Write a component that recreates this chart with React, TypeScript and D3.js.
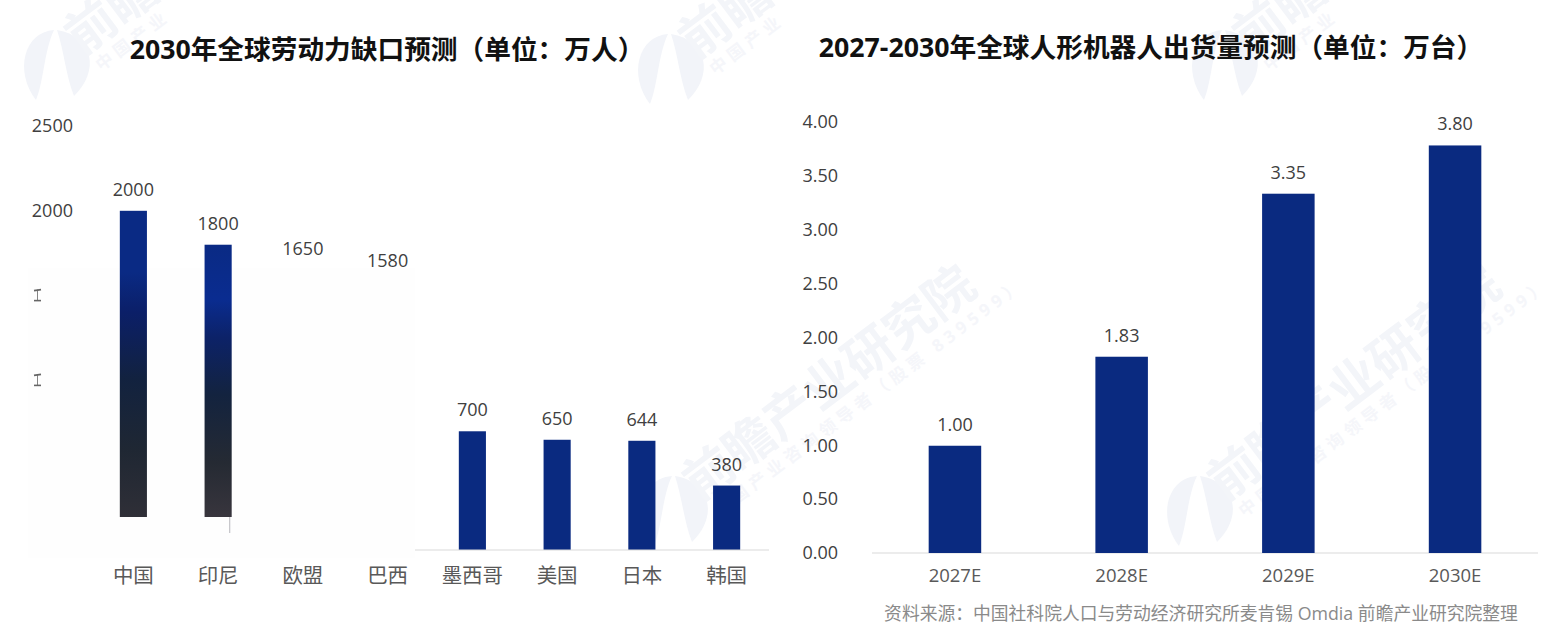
import React from "react";
import * as d3 from "d3";

const W = 1558, H = 637;
const FONT = "'Open Sans','Noto Sans CJK SC',sans-serif";
const leftTitle = "2030年全球劳动力缺口预测（单位：万人）";
const rightTitle = "2027-2030年全球人形机器人出货量预测（单位：万台）";
const leftCats = ["中国", "印尼", "欧盟", "巴西", "墨西哥", "美国", "日本", "韩国"];
const leftVals = [2000, 1800, 1650, 1580, 700, 650, 644, 380];
const leftTicks = [2500, 2000, 1500, 1000, 500, 0];
const rightCats = ["2027E", "2028E", "2029E", "2030E"];
const rightVals = [1.0, 1.83, 3.35, 3.8];
const rightTicks = [0, 0.5, 1, 1.5, 2, 2.5, 3, 3.5, 4];
const source = "资料来源：中国社科院人口与劳动经济研究所麦肯锡 Omdia 前瞻产业研究院整理";
const fadedCats = ["中国", "印尼"];
const hiddenTicks = [1500, 1000];
const wmFull = ["前瞻产业研究院", "中国产业咨询领导者（股票 839599）"];
const wmCut = ["前瞻", "中国产业"];
const wmAnchors: [number, number, string[]][] = [
  [22, 66, wmCut],
  [636, 70, wmCut],
  [1190, 66, wmCut],
  [640, 512, wmFull],
  [1165, 512, wmFull],
];

const NAVY = "#0a2a80";
const TXT = "#404040";

const xL = d3.scaleBand<string>().domain(leftCats).range([91, 769]).paddingInner(0.68).paddingOuter(0.34);
const yL = d3.scaleLinear().domain([0, 2500]).range([550, 126]);
const xR = d3.scaleBand<string>().domain(rightCats).range([872, 1538]).paddingInner(0.685).paddingOuter(0.34);
const yR = d3.scaleLinear().domain([0, 4]).range([553, 124]);

function Watermark({ x, y, lines }: { x: number; y: number; lines: string[] }) {
  return (
    <g>
      <path
        d={`M${x + 14},${y + 34} C${x - 8},${y + 5} ${x + 2},${y - 34} ${x + 32},${y - 36} C${x + 22},${y - 15} ${x + 22},${y + 15} ${x + 14},${y + 34}Z`}
        fill="#f2f4f9"
      />
      <path
        d={`M${x + 35},${y - 36} C${x + 72},${y - 30} ${x + 78},${y + 5} ${x + 52},${y + 30} C${x + 44},${y + 10} ${x + 42},${y - 15} ${x + 35},${y - 36}Z`}
        fill="#f2f4f9"
      />
      <g transform={`translate(${x + 60},${y - 10}) rotate(-37)`} fontFamily={FONT}>
        <text fontSize={50} fontWeight={700} fill="#f3f5f9">{lines[0]}</text>
        <text y={24} x={6} fontSize={17} fontWeight={700} fill="#f5f6fa" letterSpacing={5}>{lines[1]}</text>
      </g>
    </g>
  );
}

export default function App() {
  const hidePair = leftCats.filter((c) => !fadedCats.includes(c));
  return (
    <svg width={W} height={H} viewBox={`0 0 ${W} ${H}`} style={{ position: "absolute", left: 0, top: 0, background: "#fff" }} fontFamily={FONT}>
      <defs>
        <linearGradient id="fade1" gradientUnits="userSpaceOnUse" x1="0" y1="211" x2="0" y2="517">
          <stop offset="0" stopColor="#0a2a84" />
          <stop offset="0.2" stopColor="#0a2a84" />
          <stop offset="0.33" stopColor="#0b1f68" />
          <stop offset="0.55" stopColor="#12223f" />
          <stop offset="0.78" stopColor="#1f2733" />
          <stop offset="1" stopColor="#2f2f37" />
        </linearGradient>
        <linearGradient id="fade2" gradientUnits="userSpaceOnUse" x1="0" y1="245" x2="0" y2="517">
          <stop offset="0" stopColor="#0a2a84" />
          <stop offset="0.2" stopColor="#0a2c90" />
          <stop offset="0.34" stopColor="#0c2268" />
          <stop offset="0.55" stopColor="#13233f" />
          <stop offset="0.8" stopColor="#252a33" />
          <stop offset="1" stopColor="#38353d" />
        </linearGradient>
        <clipPath id="cutBottom"><rect x="0" y="0" width={W} height="517" /></clipPath>
      </defs>

      {wmAnchors.map(([x, y, lines]) => <Watermark key={`${x}-${y}`} x={x} y={y} lines={lines} />)}

      <text x={387} y={59} textAnchor="middle" fontSize={26.7} fontWeight={700} fill="#111">{leftTitle}</text>
      <text x={1151} y={57} textAnchor="middle" fontSize={26.7} fontWeight={700} fill="#111">{rightTitle}</text>

      {/* left chart */}
      {leftTicks.map((t) => (
        <text key={t} x={73} y={yL(t) - 0.5} dy="0.35em" textAnchor="end" fontSize={18} fill={TXT}>{t}</text>
      ))}
      {hidePair.map((c) => {
        const v = leftVals[leftCats.indexOf(c)];
        return <rect key={c} x={xL(c)} y={yL(v)} width={xL.bandwidth()} height={yL(0) - yL(v)} fill={NAVY} />;
      })}
      <rect x={28} y={268} width={387} height={290} fill="#fefefe" />
      <line x1={415} x2={769} y1={550} y2={550} stroke="#d9d9d9" />
      {hiddenTicks.map((t) => (
        <g key={t} stroke="#666" strokeWidth={1.6}>
          <line x1={34} x2={41} y1={yL(t) - 5} y2={yL(t) - 6} />
          <line x1={34} x2={41} y1={yL(t) + 5} y2={yL(t) + 5} />
          <line x1={37.5} x2={37.5} y1={yL(t) - 6} y2={yL(t) + 5} strokeWidth={0.8} />
        </g>
      ))}
      {fadedCats.map((c, i) => {
        const v = leftVals[leftCats.indexOf(c)];
        return <rect key={c} clipPath="url(#cutBottom)" x={xL(c)} y={yL(v)} width={xL.bandwidth()} height={yL(0) - yL(v)} fill={`url(#fade${i + 1})`} />;
      })}
      <line x1={xL("印尼")! + xL.bandwidth() - 2} x2={xL("印尼")! + xL.bandwidth() - 2} y1={517} y2={533} stroke="#c4c4c8" strokeWidth={1.2} />
      {leftCats.map((c, i) => (
        <g key={c}>
          <text x={xL(c)! + xL.bandwidth() / 2} y={yL(leftVals[i]) - 15} textAnchor="middle" fontSize={18} fill={TXT}>{leftVals[i]}</text>
          <text x={xL(c)! + xL.bandwidth() / 2} y={583} textAnchor="middle" fontSize={20.5} fill="#595959">{c}</text>
        </g>
      ))}

      {/* right chart */}
      {rightTicks.map((t) => (
        <text key={t} x={838} y={yR(t) - (t / 4) * 2} dy="0.35em" textAnchor="end" fontSize={18} fill={TXT}>{t.toFixed(2)}</text>
      ))}
      <line x1={872} x2={1538} y1={553} y2={553} stroke="#d9d9d9" />
      {rightCats.map((c, i) => (
        <g key={c}>
          <rect x={xR(c)} y={yR(rightVals[i])} width={xR.bandwidth()} height={yR(0) - yR(rightVals[i])} fill={NAVY} />
          <text x={xR(c)! + xR.bandwidth() / 2} y={yR(rightVals[i]) - 15} textAnchor="middle" fontSize={18} fill={TXT}>{rightVals[i].toFixed(2)}</text>
          <text x={xR(c)! + xR.bandwidth() / 2} y={582} textAnchor="middle" fontSize={18.5} fill="#595959">{c}</text>
        </g>
      ))}
      <text x={1201} y={620} textAnchor="middle" fontSize={17.8} fill="#8a8a8a">{source}</text>
    </svg>
  );
}
